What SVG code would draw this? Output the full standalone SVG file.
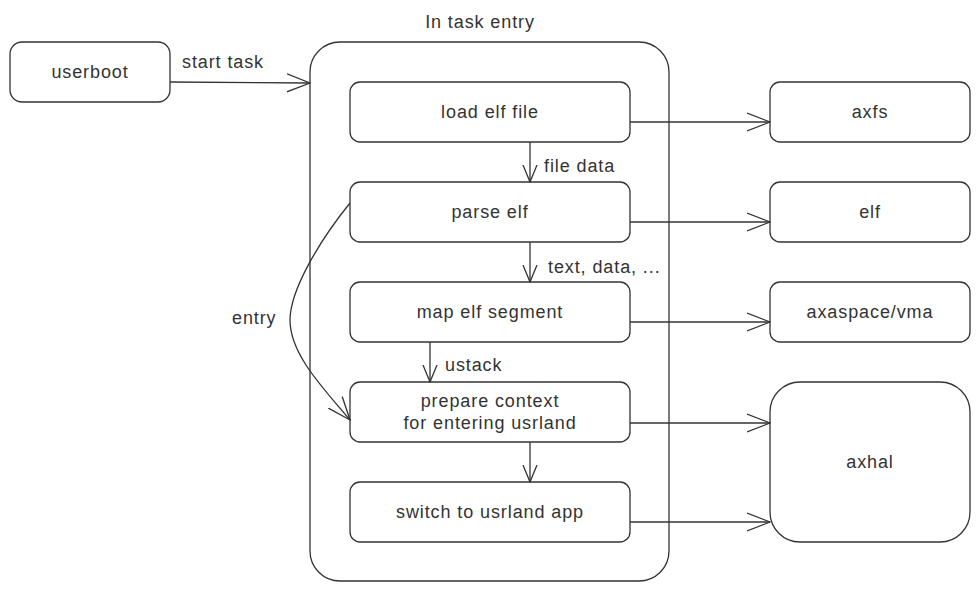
<svg xmlns="http://www.w3.org/2000/svg" width="980" height="592" viewBox="0 0 980 592">
<style>
.box{fill:#fff;stroke:#333;stroke-width:1.3}
.t{font-family:"Liberation Sans",Arial,sans-serif;font-size:18px;letter-spacing:0.9px;fill:#333;text-anchor:middle;dominant-baseline:central}
.l{font-family:"Liberation Sans",Arial,sans-serif;font-size:18px;letter-spacing:0.9px;fill:#333;dominant-baseline:central}
.c{fill:none;stroke:#333;stroke-width:1.3}
</style>
<defs>
<marker id="ah" viewBox="0 0 24 20" refX="23" refY="10" markerWidth="24" markerHeight="20" markerUnits="userSpaceOnUse" orient="auto">
<path d="M0,1 L23,10 L0,19" fill="none" stroke="#333" stroke-width="1.3"/>
</marker>
<marker id="as" viewBox="0 0 18 16" refX="17" refY="8" markerWidth="18" markerHeight="16" markerUnits="userSpaceOnUse" orient="auto">
<path d="M0,1 L17,8 L0,15" fill="none" stroke="#333" stroke-width="1.3"/>
</marker>
</defs>
<rect width="980" height="592" fill="#fff"/>
<g id="container">
<rect class="box" x="310" y="42" width="359" height="539" rx="30"/>
<text class="t" x="480" y="22">In task entry</text>
</g>
<g id="userboot"><rect class="box" x="10" y="42" width="160" height="60" rx="12"/><text class="t" x="90" y="72">userboot</text></g>
<g id="load"><rect class="box" x="350" y="82" width="280" height="60" rx="10"/><text class="t" x="490" y="112">load elf file</text></g>
<g id="parse"><rect class="box" x="350" y="182" width="280" height="60" rx="10"/><text class="t" x="490" y="212">parse elf</text></g>
<g id="map"><rect class="box" x="350" y="282" width="280" height="60" rx="10"/><text class="t" x="490" y="312">map elf segment</text></g>
<g id="prepare"><rect class="box" x="350" y="382" width="280" height="60" rx="10"/><text class="t" x="490" y="401">prepare context</text><text class="t" x="490" y="423">for entering usrland</text></g>
<g id="switch"><rect class="box" x="350" y="482" width="280" height="60" rx="10"/><text class="t" x="490" y="512">switch to usrland app</text></g>
<g id="axfs"><rect class="box" x="770" y="82" width="200" height="60" rx="10"/><text class="t" x="870" y="112">axfs</text></g>
<g id="elf"><rect class="box" x="770" y="182" width="200" height="60" rx="10"/><text class="t" x="870" y="212">elf</text></g>
<g id="axaspace"><rect class="box" x="770" y="282" width="200" height="60" rx="10"/><text class="t" x="870" y="312">axaspace/vma</text></g>
<g id="axhal"><rect class="box" x="770" y="382" width="200" height="160" rx="30"/><text class="t" x="870" y="462">axhal</text></g>
<g id="connectors">
<path class="c" d="M170,82 L310,83" marker-end="url(#ah)"/>
<text class="l" x="182" y="62">start task</text>
<path class="c" d="M630,122 L770,122" marker-end="url(#ah)"/>
<path class="c" d="M630,222 L770,222" marker-end="url(#ah)"/>
<path class="c" d="M630,322 L770,322" marker-end="url(#ah)"/>
<path class="c" d="M630,423 L770,423" marker-end="url(#ah)"/>
<path class="c" d="M630,522 L770,522" marker-end="url(#ah)"/>
<path class="c" d="M530,142 L530,182" marker-end="url(#as)"/>
<text class="l" x="544" y="166">file data</text>
<path class="c" d="M530,242 L530,282" marker-end="url(#as)"/>
<text class="l" x="548" y="267">text, data, ...</text>
<path class="c" d="M430,342 L430,382" marker-end="url(#as)"/>
<text class="l" x="445" y="365">ustack</text>
<path class="c" d="M530,442 L530,482" marker-end="url(#as)"/>
<path class="c" d="M350,203 C320,240 290,290 290,320 C290,355 325,390 350,420" marker-end="url(#ah)"/>
<text class="l" x="232" y="318">entry</text>
</g>
</svg>
